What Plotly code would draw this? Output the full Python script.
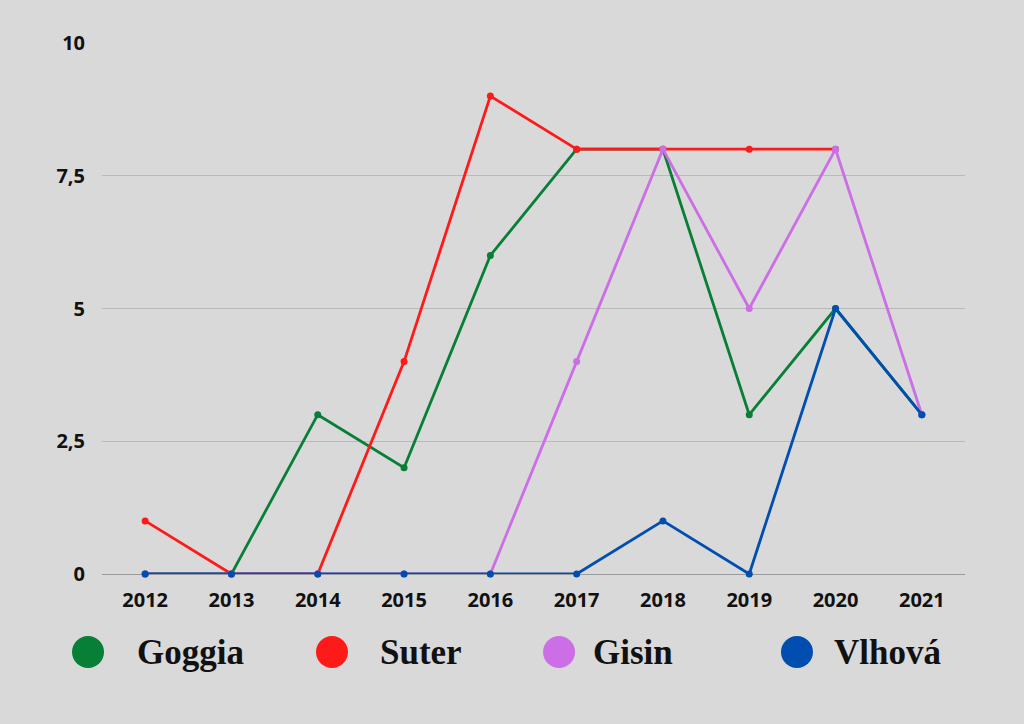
import plotly.graph_objects as go

years = ["2012", "2013", "2014", "2015", "2016", "2017", "2018", "2019", "2020", "2021"]

goggia = [0, 0, 3, 2, 6, 8, 8, 3, 5, 3]
suter = [1, 0, 0, 4, 9, 8, 8, 8, 8, None]
gisin = [0, 0, 0, 0, 0, 4, 8, 5, 8, 3]
vlhova = [0, 0, 0, 0, 0, 0, 1, 0, 5, 3]

names = ["Goggia", "Suter", "Gisin", "Vlhová"]
colors = ["#087f36", "#ff1a1a", "#cc6ee6", "#004fb0"]

y_ticks = [0, 2.5, 5, 7.5, 10]
y_labels = ["0", "2,5", "5", "7,5", "10"]

fig = go.Figure()
for name, vals, col in zip(names, [goggia, suter, gisin, vlhova], colors):
    fig.add_trace(go.Scatter(
        x=years, y=vals, name=name, mode="lines+markers",
        line=dict(color=col, width=2.8),
        marker=dict(color=col, size=7),
        cliponaxis=False,
    ))

# custom legend below the plot (big dots + serif labels)
dot_x = [-0.0162, 0.2665, 0.5296, 0.8053]
text_x = [0.0382, 0.320, 0.567, 0.846]
for i, (name, col) in enumerate(zip(names, colors)):
    fig.add_shape(type="circle", xref="paper", yref="paper",
                  xsizemode="pixel", ysizemode="pixel",
                  xanchor=dot_x[i], yanchor=-0.147,
                  x0=-16, x1=16, y0=-16, y1=16,
                  fillcolor=col, line=dict(width=0))
    fig.add_annotation(x=text_x[i], y=-0.147, xref="paper", yref="paper",
                       text="<b>" + name + "</b>", showarrow=False,
                       xanchor="left", yanchor="middle",
                       font=dict(family="Liberation Serif", size=35, color="#111"))

fig.update_layout(
    width=1024, height=724,
    margin=dict(l=102, r=59, t=43, b=150),
    paper_bgcolor="#d9d9d9", plot_bgcolor="#d9d9d9",
    showlegend=False,
    font=dict(family="Open Sans", color="#111"),
)
fig.update_xaxes(
    type="category", range=[-0.5, 9.5], showgrid=False, zeroline=False,
    showline=False, ticks="", ticklabelstandoff=12,
    tickfont=dict(size=20, family="Open Sans", weight="bold"),
)
fig.update_yaxes(
    range=[0, 10], tickvals=y_ticks, ticktext=y_labels,
    showgrid=True, gridcolor="#b9b9b9", gridwidth=1,
    zeroline=True, zerolinecolor="#9a9a9a", zerolinewidth=1,
    ticks="", ticklabelstandoff=16,
    tickfont=dict(size=20, family="Open Sans", weight="bold"),
)

fig.write_html("out.html", config={"displayModeBar": False},
               post_script="document.body.style.margin='0';")
